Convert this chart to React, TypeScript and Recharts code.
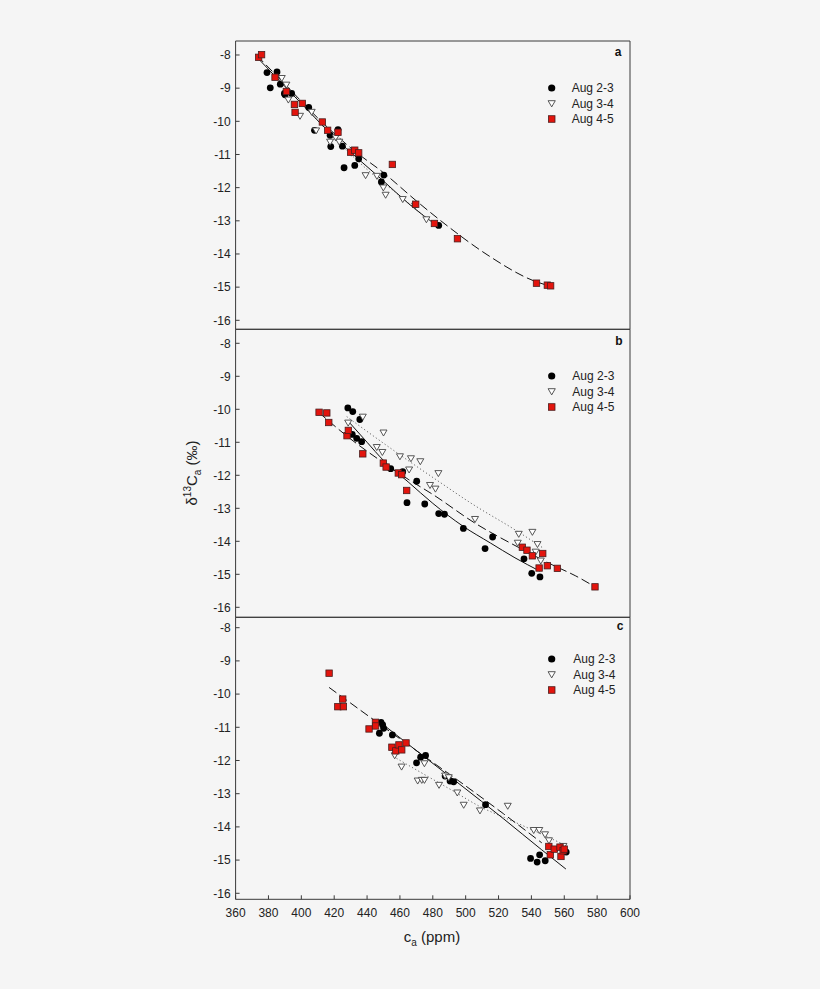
import React from "react";
import { ScatterChart, Scatter, XAxis, YAxis } from "recharts";

type P = [number, number];

const xTicks = [360, 380, 400, 420, 440, 460, 480, 500, 520, 540, 560, 580, 600];
const yTicks = [-16, -15, -14, -13, -12, -11, -10, -9, -8];
const seriesNames = ["Aug 2-3", "Aug 3-4", "Aug 4-5"];

// ---------- panel a ----------
const a23: P[] = [
  [379.1, -8.53], [381.1, -8.99], [385.2, -8.51], [387.2, -8.88], [390.1, -9.2], [389.7, -9.16],
  [394.1, -9.16], [404.5, -9.58], [408.0, -10.27], [417.5, -10.42], [417.9, -10.76], [422.3, -10.25],
  [425.0, -10.75], [426.0, -11.4], [432.5, -11.33], [434.9, -11.13], [448.7, -11.83], [450.2, -11.62],
  [483.6, -13.14],
];
const a34: P[] = [
  [388.1, -8.7], [390.9, -8.9], [392.1, -9.35], [399.2, -9.84], [406.3, -9.72], [409.0, -10.28],
  [417.5, -10.62], [420.9, -10.49], [423.1, -10.62], [430.5, -10.95], [439.1, -11.63], [446.0, -11.65],
  [449.9, -12.0], [451.3, -12.22], [461.7, -12.35], [469.2, -12.55], [476.1, -12.96],
];
const a45: P[] = [
  [374.0, -8.07], [375.8, -7.99], [384.0, -8.67], [390.9, -9.1], [395.8, -9.49], [396.2, -9.73],
  [400.6, -9.46], [412.8, -10.02], [416.0, -10.27], [422.3, -10.33], [430.0, -10.93], [432.5, -10.87],
  [434.9, -10.95], [455.4, -11.3], [469.6, -12.5], [481.0, -13.08], [495.0, -13.54], [543.1, -14.88],
  [549.7, -14.94], [551.7, -14.96],
];
const fitA23: P[] = [
  [374, -8.12], [390, -8.95], [405, -9.72], [420, -10.48], [435, -11.15], [450, -11.8], [465, -12.47], [484, -13.2],
];
const fitA34: P[] = [
  [386, -8.72], [400, -9.45], [420, -10.5], [440, -11.45], [460, -12.25], [477, -12.95],
];
const fitA45: P[] = [
  [373, -8.02], [390, -8.88], [410, -9.9], [432, -10.88], [450, -11.55], [470, -12.4], [488, -13.12],
  [513, -14.02], [541, -14.8], [552, -14.98],
];

// ---------- panel b ----------
const b23: P[] = [
  [428.3, -9.96], [431.3, -10.07], [435.6, -10.31], [431.0, -10.76], [433.7, -10.88], [436.7, -10.98],
  [454.4, -11.8], [461.7, -11.89], [470.2, -12.18], [464.3, -12.83], [475.1, -12.87], [483.6, -13.16],
  [487.1, -13.18], [498.6, -13.61], [511.8, -14.22], [516.4, -13.87], [535.5, -14.53], [540.2, -14.97],
  [545.2, -15.08],
];
const b34: P[] = [
  [428.5, -10.41], [437.4, -10.23], [450.0, -10.71], [445.9, -11.15], [449.3, -11.3], [460.0, -11.43],
  [466.7, -11.49], [472.4, -11.58], [465.6, -11.83], [483.4, -11.94], [478.3, -12.3], [481.6, -12.41],
  [505.7, -13.33], [532.3, -13.78], [531.7, -14.05], [540.6, -13.72], [543.7, -14.09], [542.6, -14.32],
  [545.7, -14.59],
];
const b45: P[] = [
  [410.8, -10.09], [415.5, -10.11], [416.7, -10.4], [427.8, -10.8], [428.6, -10.64], [437.4, -11.35],
  [449.9, -11.63], [451.6, -11.75], [459.0, -11.93], [461.1, -11.98], [464.1, -12.46], [534.5, -14.18],
  [537.3, -14.27], [540.6, -14.44], [544.7, -14.81], [546.9, -14.37], [549.7, -14.74], [555.8, -14.82],
  [578.7, -15.38],
];
const fitB23: P[] = [
  [429.6, -10.42], [440, -11.0], [450, -11.55], [465, -12.2], [480, -12.85], [498.6, -13.55], [515, -14.05],
  [530, -14.5], [545, -14.9],
];
const fitB34: P[] = [
  [427.6, -10.22], [445, -10.85], [460, -11.38], [484, -12.2], [505, -12.9], [529, -13.62], [547, -14.2],
];
const fitB45: P[] = [
  [410.7, -10.1], [430, -10.9], [450, -11.62], [465, -12.12], [480, -12.58], [506, -13.46], [532, -14.18],
  [553, -14.72], [567, -15.05], [578.7, -15.38],
];

// ---------- panel c ----------
const c23: P[] = [
  [448.5, -10.85], [449.5, -10.93], [450.1, -11.03], [447.5, -11.18], [455.4, -11.23], [470.1, -12.07],
  [472.6, -11.9], [475.6, -11.85], [487.5, -12.47], [490.5, -12.62], [492.7, -12.64], [512.1, -13.33],
  [539.5, -14.95], [543.5, -15.06], [545.0, -14.84], [548.4, -15.02], [561.2, -14.76],
];
const c34: P[] = [
  [456.8, -11.85], [461.0, -12.19], [470.8, -12.61], [473.3, -12.59], [474.9, -12.59], [474.9, -12.09],
  [483.8, -12.74], [487.5, -12.46], [489.7, -12.51], [494.9, -12.97], [498.8, -13.34], [508.7, -13.51],
  [525.6, -13.37], [541.4, -14.1], [544.8, -14.1], [548.3, -14.23], [550.7, -14.41], [559.5, -14.58],
];
const c45: P[] = [
  [416.9, -9.37], [422.2, -10.38], [425.2, -10.15], [425.6, -10.38], [441.2, -11.05], [445.1, -10.85],
  [445.2, -10.96], [455.1, -11.6], [457.5, -11.71], [459.4, -11.53], [461.1, -11.68], [463.7, -11.47],
  [550.6, -14.59], [551.5, -14.84], [553.9, -14.67], [557.4, -14.61], [558.0, -14.89], [559.3, -14.72],
  [560.0, -14.67],
];
const fitC23: P[] = [
  [447.5, -10.83], [472, -11.78], [496.5, -12.72], [522.9, -13.75], [546, -14.68], [561, -15.27],
];
const fitC34: P[] = [
  [456, -11.88], [472, -12.34], [490, -12.85], [510, -13.42], [525, -13.75], [541, -14.1], [560.5, -14.55],
];
const fitC45: P[] = [
  [416.9, -9.8], [447.5, -10.9], [472.2, -11.78], [496.5, -12.64], [522.9, -13.6], [546.3, -14.48],
];

const toPts = (arr: P[]) => arr.map(([x, y]) => ({ x, y }));

const FONT = '"Liberation Sans", Arial, Helvetica, sans-serif';
const AX = "#3a3a3a";
const RED = "#e3140d";

const Dot = (p: any) => <circle cx={p.cx} cy={p.cy} r={3.4} fill="#000" />;
const Tri = (p: any) => (
  <path
    d={`M${p.cx - 3.5},${p.cy - 2.7} L${p.cx + 3.5},${p.cy - 2.7} L${p.cx},${p.cy + 3.3} Z`}
    fill="#fff"
    stroke="#444"
    strokeWidth={0.9}
  />
);
const Sq = (p: any) => (
  <rect x={p.cx - 3.2} y={p.cy - 3.2} width={6.4} height={6.4} fill={RED} stroke="#4a1e1e" strokeWidth={0.8} />
);
const None = () => <g />;

type PanelProps = {
  top: number;
  bottom: number;
  domain: [number, number];
  d23: P[];
  d34: P[];
  d45: P[];
  f23: P[];
  f34: P[];
  f45: P[];
  showX: boolean;
};

const LEFT = 235.6;
const RIGHT = 630;
const W = 820;
const H = 989;

function Panel({ top, bottom, domain, d23, d34, d45, f23, f34, f45, showX }: PanelProps) {
  return (
    <div style={{ position: "absolute", left: 0, top: 0 }}>
      <ScatterChart
        width={W}
        height={H}
        margin={{ top: top - 1, right: W - RIGHT - 1, bottom: H - bottom - 1, left: LEFT - 1 }}
      >
        <XAxis
          xAxisId="b"
          type="number"
          dataKey="x"
          domain={[360, 600]}
          ticks={xTicks}
          interval={0}
          allowDataOverflow
          orientation="bottom"
          height={1}
          tickSize={-4}
          tickMargin={13}
          stroke={AX}
          tick={showX ? { fontSize: 12, fill: "#222" } : false}
        />
        <XAxis
          xAxisId="t"
          type="number"
          dataKey="x"
          domain={[360, 600]}
          ticks={xTicks}
          interval={0}
          allowDataOverflow
          orientation="top"
          height={1}
          tickSize={-4}
          stroke={AX}
          tick={false}
        />
        <YAxis
          yAxisId="l"
          type="number"
          dataKey="y"
          domain={domain}
          ticks={yTicks}
          interval={0}
          allowDataOverflow
          orientation="left"
          width={1}
          tickSize={-4}
          tickMargin={9}
          stroke={AX}
          tick={{ fontSize: 12, fill: "#222" }}
        />
        <YAxis
          yAxisId="r"
          type="number"
          dataKey="y"
          domain={domain}
          ticks={yTicks}
          interval={0}
          allowDataOverflow
          orientation="right"
          width={1}
          tickSize={-4}
          stroke={AX}
          tick={false}
        />
        <Scatter
          xAxisId="b"
          yAxisId="l"
          data={toPts(f34)}
          shape={None}
          line={{ stroke: "#666", strokeWidth: 1, strokeDasharray: "1.2 2.4" }}
          lineJointType="monotoneX"
          isAnimationActive={false}
        />
        <Scatter
          xAxisId="b"
          yAxisId="l"
          data={toPts(f45)}
          shape={None}
          line={{ stroke: "#111", strokeWidth: 1, strokeDasharray: "9 4" }}
          lineJointType="monotoneX"
          isAnimationActive={false}
        />
        <Scatter
          xAxisId="b"
          yAxisId="l"
          data={toPts(f23)}
          shape={None}
          line={{ stroke: "#111", strokeWidth: 1 }}
          lineJointType="monotoneX"
          isAnimationActive={false}
        />
        <Scatter xAxisId="b" yAxisId="l" data={toPts(d23)} shape={Dot} isAnimationActive={false} />
        <Scatter xAxisId="b" yAxisId="l" data={toPts(d34)} shape={Tri} isAnimationActive={false} />
        <Scatter xAxisId="b" yAxisId="l" data={toPts(d45)} shape={Sq} isAnimationActive={false} />
      </ScatterChart>
    </div>
  );
}

function LegendBlock({ y0, tx }: { y0: number; tx: number }) {
  const mx = 551.7;
  const rows = [y0, y0 + 15.5, y0 + 31];
  return (
    <g>
      <circle cx={mx} cy={rows[0]} r={3.6} fill="#000" />
      <path
        d={`M${mx - 3.6},${rows[1] - 2.8} L${mx + 3.6},${rows[1] - 2.8} L${mx},${rows[1] + 3.4} Z`}
        fill="#fff"
        stroke="#444"
        strokeWidth={0.9}
      />
      <rect x={mx - 3.3} y={rows[2] - 3.3} width={6.6} height={6.6} fill={RED} stroke="#4a1e1e" strokeWidth={0.8} />
      {seriesNames.map((n, i) => (
        <text key={n} x={tx} y={rows[i] + 4.3} fontSize={12} fill="#222">
          {n}
        </text>
      ))}
    </g>
  );
}

export default function App() {
  return (
    <div
      style={{
        position: "absolute",
        left: 0,
        top: 0,
        width: W,
        height: H,
        background: "#f5f5f5",
        fontFamily: FONT,
        overflow: "hidden",
      }}
    >
      <Panel top={41} bottom={329.3} domain={[-16.271, -7.578]} d23={a23} d34={a34} d45={a45} f23={fitA23} f34={fitA34} f45={fitA45} showX={false} />
      <Panel top={329.3} bottom={617.3} domain={[-16.303, -7.576]} d23={b23} d34={b34} d45={b45} f23={fitB23} f34={fitB34} f45={fitB45} showX={false} />
      <Panel top={617.3} bottom={899.3} domain={[-16.181, -7.687]} d23={c23} d34={c34} d45={c45} f23={fitC23} f34={fitC34} f45={fitC45} showX={true} />
      <svg width={W} height={H} style={{ position: "absolute", left: 0, top: 0, pointerEvents: "none" }}>
        <text x={618} y={55.5} fontSize={12} fontWeight="bold" textAnchor="middle" fill="#111">a</text>
        <text x={619} y={344.5} fontSize={12} fontWeight="bold" textAnchor="middle" fill="#111">b</text>
        <text x={620} y={630} fontSize={12} fontWeight="bold" textAnchor="middle" fill="#111">c</text>
        <LegendBlock y0={88} tx={571.7} />
        <LegendBlock y0={376} tx={572.3} />
        <LegendBlock y0={659} tx={573.3} />
        <text x={432} y={942} fontSize={15} textAnchor="middle" fill="#222">
          c<tspan fontSize={10} dy={4}>a</tspan>
          <tspan dy={-4}> (ppm)</tspan>
        </text>
        <text
          transform="translate(197,473) rotate(-90)"
          fontSize={15}
          textAnchor="middle"
          fill="#222"
        >
          δ<tspan fontSize={10} dy={-6}>13</tspan>
          <tspan dy={6}>C</tspan>
          <tspan fontSize={10} dy={4}>a</tspan>
          <tspan dy={-4}> (‰)</tspan>
        </text>
      </svg>
    </div>
  );
}
